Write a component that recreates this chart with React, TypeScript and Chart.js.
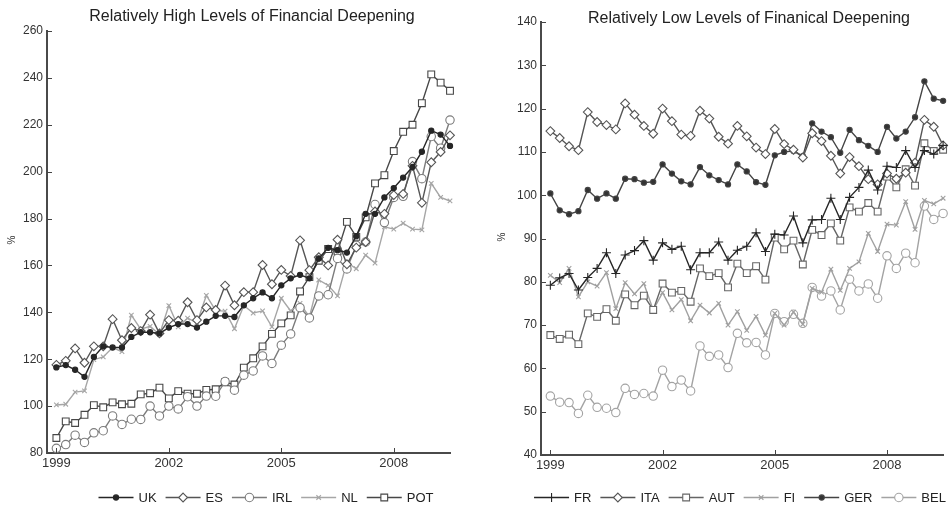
import React, { useEffect, useRef } from 'react';
import { Chart, registerables } from 'chart.js';
Chart.register(...registerables);

// ---------- data ----------
const quarters = [
  '1999Q1','1999Q2','1999Q3','1999Q4','2000Q1','2000Q2','2000Q3','2000Q4',
  '2001Q1','2001Q2','2001Q3','2001Q4','2002Q1','2002Q2','2002Q3','2002Q4',
  '2003Q1','2003Q2','2003Q3','2003Q4','2004Q1','2004Q2','2004Q3','2004Q4',
  '2005Q1','2005Q2','2005Q3','2005Q4','2006Q1','2006Q2','2006Q3','2006Q4',
  '2007Q1','2007Q2','2007Q3','2007Q4','2008Q1','2008Q2','2008Q3','2008Q4',
  '2009Q1','2009Q2','2009Q3',
];
const yearTicks = [1999, 2002, 2005, 2008];

// Left panel: relatively high levels of financial deepening (%)
const UK = [116.5, 117.5, 115.5, 112.5, 121, 125.5, 125, 125, 129.5, 131.5, 131.5, 131, 133.5, 135, 135, 133.5, 136, 138.5, 138.5, 138, 143, 146, 148.5, 146, 151.5, 154.5, 156, 154.5, 163, 167.5, 166.5, 165.5, 172.5, 182, 182, 189, 193, 197.5, 202, 208.5, 217.5, 215.8, 211];
const ES = [117.6, 119.3, 124.6, 118.5, 125.5, 125.5, 137.1, 128.1, 133.3, 132, 139, 131, 136.7, 136.4, 144.3, 136.7, 142.1, 141, 151.4, 143, 148.6, 148.6, 160.2, 152, 158.1, 155.5, 170.7, 158, 163.5, 160, 171, 160.5, 167.6, 170, 183, 182, 190, 190.5, 202.5, 186.7, 204, 208.4, 215.5];
const IRL = [82, 83.6, 87.6, 84.5, 88.6, 89.5, 95.8, 92.2, 94.4, 94.3, 100, 95.8, 100, 98.8, 104, 100, 104.3, 104.2, 110.5, 106.8, 113.2, 115, 121.4, 118.2, 126, 130.8, 142, 137.6, 147, 147.5, 163, 158.5, 168.6, 170, 186, 178.3, 189, 189.5, 204.3, 197, 215, 210, 222];
const NL = [100.5, 100.8, 106, 106.5, 119.8, 121, 125, 123.2, 138.8, 132.8, 134, 130.5, 142.9, 133.8, 137.5, 135.5, 147.2, 140.7, 140.5, 133, 142.9, 139.7, 140.6, 133.8, 146, 140.6, 143.8, 138, 153.8, 151.5, 147, 161.3, 158.6, 164.4, 161, 176.5, 175.5, 178, 175.5, 175.2, 195, 189, 187.5];
const POT = [86.4, 93.5, 92.8, 96.3, 100.4, 99.5, 101.6, 100.8, 101, 105, 105.5, 107.9, 103.3, 106.4, 105.3, 105.3, 106.9, 107.2, 110.2, 109.2, 116.4, 120.4, 125.5, 130.8, 135.3, 138.7, 148.9, 155, 162, 167, 166, 178.6, 172.2, 180.5, 195, 198.5, 208.8, 217, 220, 229.2, 241.5, 238, 234.5];

// Right panel: relatively low levels of financial deepening (%)
const FR = [79.2, 80.9, 81.9, 78.1, 81, 83.1, 86.7, 81.9, 86.2, 87.2, 89.5, 85, 89, 87.5, 88.2, 82.8, 86.7, 86.7, 89.2, 85, 87.3, 88.2, 91.3, 87, 91, 90.8, 95.2, 89, 94.3, 94.4, 99.3, 94.4, 99.5, 101.8, 105.8, 101.2, 106.7, 106.4, 110.3, 106.4, 110.3, 109.5, 111.5];
const ITA = [114.8, 113.2, 111.3, 110.4, 119.2, 116.9, 116.2, 115.2, 121.2, 118.6, 116, 114.2, 120, 117.1, 114, 113.7, 119.5, 117.7, 113.5, 111.9, 116, 113.6, 111, 109.5, 115.3, 111.8, 110.5, 108.7, 114.3, 112.5, 109.1, 105, 108.8, 106.7, 103.7, 102.5, 105, 103.8, 105.2, 107.5, 117.4, 115.8, 111.5];
const AUT = [67.7, 66.8, 67.8, 65.6, 72.7, 71.9, 73.7, 71, 77.1, 74.6, 76.8, 73.5, 79.6, 77.5, 77.9, 75.4, 83.1, 81.3, 82, 78.7, 84.2, 82, 83.6, 80.5, 90.2, 87.5, 89.5, 84, 92, 90.8, 93.5, 89.5, 97.2, 96.2, 98.2, 96.2, 104.3, 101.8, 106, 102.2, 112, 110.2, 110.5];
const FI = [81.5, 79.8, 83.1, 76.5, 80, 79, 82.1, 73.8, 79.8, 77.2, 79.6, 73.5, 77.5, 73.5, 75.9, 71, 74.6, 72.8, 75, 70, 73.1, 68.8, 72, 67.7, 72.7, 70, 73, 70.2, 78.5, 77.6, 82.9, 78, 83.1, 84.6, 91.2, 87, 93.3, 93.1, 98.5, 92.1, 98.8, 98, 99.3];
const GER = [100.4, 96.5, 95.6, 96.3, 101.2, 99.2, 100.4, 99.2, 103.8, 103.7, 102.9, 103.1, 107.1, 105, 103.2, 102.5, 106.5, 104.6, 103.5, 102.5, 107.1, 105.5, 103, 102.4, 109.2, 110, 110.2, 109, 116.6, 114.7, 113.4, 109.8, 115.1, 112.7, 111.4, 110, 115.8, 113.1, 114.7, 118, 126.3, 122.3, 121.8];
const BEL = [53.6, 52.2, 52.1, 49.6, 53.8, 51, 50.8, 49.8, 55.4, 54, 54.2, 53.6, 59.6, 55.8, 57.3, 54.8, 65.2, 62.8, 63.1, 60.2, 68.1, 65.9, 66, 63.1, 72.7, 70.8, 72.5, 70.4, 78.7, 76.7, 77.9, 73.5, 80.6, 77.9, 79.5, 76.2, 86, 83.1, 86.6, 84.4, 97.5, 94.4, 95.8];

// ---------- styles ----------
const FONT = '"Liberation Sans", Arial, Helvetica, sans-serif';
type Sty = { color: string; marker: string; r: number; fill: string };
const S = {
  UK: { color: '#262626', marker: 'circle', r: 2.6, fill: '#262626' },
  ES: { color: '#555555', marker: 'rectRot', r: 4.4, fill: '#ffffff' },
  IRL: { color: '#7c7c7c', marker: 'circle', r: 4.2, fill: '#ffffff' },
  NL: { color: '#a6a6a6', marker: 'crossRot', r: 3.2, fill: '#ffffff' },
  POT: { color: '#474747', marker: 'rect', r: 4.8, fill: '#ffffff' },
  FR: { color: '#262626', marker: 'cross', r: 4.5, fill: '#262626' },
  ITA: { color: '#555555', marker: 'rectRot', r: 4.4, fill: '#ffffff' },
  AUT: { color: '#666666', marker: 'rect', r: 4.8, fill: '#ffffff' },
  FI: { color: '#a0a0a0', marker: 'crossRot', r: 3.2, fill: '#ffffff' },
  GER: { color: '#444444', marker: 'circle', r: 2.6, fill: '#333333' },
  BEL: { color: '#a3a3a3', marker: 'circle', r: 4.2, fill: '#ffffff' },
};

const qx = quarters.map((q) => parseInt(q.slice(0, 4), 10) + (parseInt(q.slice(5), 10) - 1) / 4);

function ds(label: string, vals: number[], st: Sty) {
  return {
    label,
    data: vals.map((v, i) => ({ x: qx[i], y: v })),
    borderColor: st.color,
    backgroundColor: st.fill,
    borderWidth: 1.4,
    pointStyle: st.marker,
    pointRadius: st.r,
    pointBorderColor: st.color,
    pointBackgroundColor: st.fill,
    pointBorderWidth: 1.1,
    tension: 0,
    clip: false,
    _sty: st,
  } as any;
}

function drawMarker(ctx: CanvasRenderingContext2D, st: Sty, x: number, y: number) {
  const r = st.r;
  ctx.save();
  ctx.strokeStyle = st.color;
  ctx.fillStyle = st.fill;
  ctx.lineWidth = 1.1;
  ctx.beginPath();
  if (st.marker === 'circle') {
    ctx.arc(x, y, r, 0, Math.PI * 2);
    ctx.fill();
    ctx.stroke();
  } else if (st.marker === 'rectRot') {
    ctx.moveTo(x, y - r); ctx.lineTo(x + r, y); ctx.lineTo(x, y + r); ctx.lineTo(x - r, y); ctx.closePath();
    ctx.fill(); ctx.stroke();
  } else if (st.marker === 'rect') {
    const s = r * Math.SQRT1_2;
    ctx.rect(x - s, y - s, 2 * s, 2 * s);
    ctx.fill(); ctx.stroke();
  } else if (st.marker === 'cross') {
    ctx.moveTo(x, y - r); ctx.lineTo(x, y + r); ctx.moveTo(x - r, y); ctx.lineTo(x + r, y);
    ctx.stroke();
  } else if (st.marker === 'crossRot') {
    const d = r * Math.SQRT1_2;
    ctx.moveTo(x - d, y - d); ctx.lineTo(x + d, y + d); ctx.moveTo(x - d, y + d); ctx.lineTo(x + d, y - d);
    ctx.stroke();
  }
  ctx.restore();
}

type Deco = { title: string; titleX: number; titleY: number; pctX: number; pctY: number; legX: number; legY: number };

function decorPlugin(cfg: Deco) {
  return {
    id: 'decor',
    afterDraw(chart: any) {
      const ctx: CanvasRenderingContext2D = chart.ctx;
      const { left, bottom } = chart.chartArea;
      const xs = chart.scales.x;
      const ys = chart.scales.y;
      ctx.save();
      // inward tick marks
      ctx.strokeStyle = '#444';
      ctx.lineWidth = 1;
      xs.ticks.forEach((t: any) => {
        const px = Math.round(xs.getPixelForValue(t.value)) + 0.5;
        ctx.beginPath(); ctx.moveTo(px, bottom); ctx.lineTo(px, bottom - 5); ctx.stroke();
      });
      ys.ticks.forEach((t: any) => {
        const py = Math.round(ys.getPixelForValue(t.value)) + 0.5;
        ctx.beginPath(); ctx.moveTo(left, py); ctx.lineTo(left + 5, py); ctx.stroke();
      });
      // title
      ctx.fillStyle = '#222';
      ctx.font = '16px ' + FONT;
      ctx.textAlign = 'center';
      ctx.textBaseline = 'middle';
      ctx.fillText(cfg.title, cfg.titleX, cfg.titleY);
      // % axis label
      ctx.save();
      ctx.translate(cfg.pctX, cfg.pctY);
      ctx.rotate(-Math.PI / 2);
      ctx.font = '10px ' + FONT;
      ctx.fillStyle = '#333';
      ctx.fillText('%', 0, 0);
      ctx.restore();
      // legend
      ctx.font = '13px ' + FONT;
      const lineLen = 35, gapText = 5, gapItem = 9;
      const items = chart.data.datasets.map((d: any) => ({ label: d.label, st: d._sty as Sty, w: ctx.measureText(d.label).width }));
      const total = items.reduce((a: number, it: any) => a + lineLen + gapText + it.w, 0) + gapItem * (items.length - 1);
      let x = cfg.legX - total / 2;
      const y = cfg.legY;
      items.forEach((it: any) => {
        ctx.strokeStyle = it.st.color;
        ctx.lineWidth = 1.4;
        ctx.beginPath(); ctx.moveTo(x, y + 0.5); ctx.lineTo(x + lineLen, y + 0.5); ctx.stroke();
        drawMarker(ctx, it.st, x + lineLen / 2, y + 0.5);
        ctx.fillStyle = '#222';
        ctx.textAlign = 'left';
        ctx.textBaseline = 'middle';
        ctx.fillText(it.label, x + lineLen + gapText, y + 1);
        x += lineLen + gapText + it.w + gapItem;
      });
      ctx.restore();
    },
  };
}

function makeOptions(yMin: number, yMax: number, yStep: number, yWidth: number, xHeight: number, pad: any) {
  return {
    responsive: false,
    animation: false,
    layout: { padding: pad },
    plugins: { legend: { display: false }, title: { display: false }, tooltip: { enabled: false } },
    elements: { line: { tension: 0 } },
    scales: {
      x: {
        type: 'linear',
        min: 1998.75,
        max: 2009.5,
        grid: { display: false, drawTicks: false },
        border: { display: true, color: '#4a4a4a', width: 2 },
        afterBuildTicks: (s: any) => { s.ticks = yearTicks.map((v) => ({ value: v })); },
        ticks: { color: '#333', font: { family: FONT, size: 13 }, padding: 3, maxRotation: 0, autoSkip: false, callback: (v: any) => String(v) },
        afterFit: (s: any) => { s.height = xHeight; },
      },
      y: {
        type: 'linear',
        min: yMin,
        max: yMax,
        grid: { display: false, drawTicks: false },
        border: { display: true, color: '#4a4a4a', width: 2 },
        ticks: { stepSize: yStep, color: '#333', font: { family: FONT, size: 12 }, padding: 4, callback: (v: any) => String(v) },
        afterFit: (s: any) => { s.width = yWidth; },
      },
    },
  } as any;
}

function Panel(props: { width: number; left: number; datasets: any[]; options: any; deco: Deco }) {
  const ref = useRef<HTMLCanvasElement | null>(null);
  useEffect(() => {
    if (!ref.current) return;
    const chart = new Chart(ref.current, {
      type: 'line',
      data: { datasets: props.datasets },
      options: props.options,
      plugins: [decorPlugin(props.deco)],
    } as any);
    return () => chart.destroy();
  }, []);
  return (
    <canvas
      ref={ref}
      width={props.width}
      height={505}
      style={{ position: 'absolute', left: props.left, top: 0, width: props.width, height: 505 }}
    />
  );
}

export default function App() {
  const leftSets = [ds('UK', UK, S.UK), ds('ES', ES, S.ES), ds('IRL', IRL, S.IRL), ds('NL', NL, S.NL), ds('POT', POT, S.POT)];
  const rightSets = [ds('FR', FR, S.FR), ds('ITA', ITA, S.ITA), ds('AUT', AUT, S.AUT), ds('FI', FI, S.FI), ds('GER', GER, S.GER), ds('BEL', BEL, S.BEL)];
  const leftOpts = makeOptions(80, 260, 20, 47, 52, { left: 0, right: 20, top: 31, bottom: 0 });
  const rightOpts = makeOptions(40, 140, 10, 71, 50, { left: 0, right: 2, top: 22, bottom: 0 });
  return (
    <div style={{ position: 'fixed', left: 0, top: 0, width: 949, height: 505, overflow: 'hidden', background: '#fff' }}>
      <Panel
        width={470}
        left={0}
        datasets={leftSets}
        options={leftOpts}
        deco={{ title: 'Relatively High Levels of Financial Deepening', titleX: 252, titleY: 17, pctX: 12, pctY: 240, legX: 266, legY: 497 }}
      />
      <Panel
        width={479}
        left={470}
        datasets={rightSets}
        options={rightOpts}
        deco={{ title: 'Relatively Low Levels of Finanical Deepening', titleX: 279, titleY: 19, pctX: 32, pctY: 237, legX: 270, legY: 497 }}
      />
    </div>
  );
}
